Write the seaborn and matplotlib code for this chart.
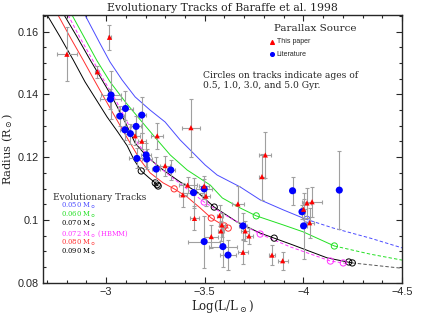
import matplotlib
matplotlib.use("Agg")
import matplotlib.pyplot as plt
import seaborn as sns
from matplotlib.ticker import MultipleLocator

# Baraffe et al. 1998 tracks: log(L/Lsun) and radius (Rsun); solid part, then dashed continuation
m050_L = [-2.893, -2.970, -3.020, -3.081, -3.147, -3.223, -3.299, -3.375, -3.426, -3.502,
          -3.563, -3.680, -3.781, -3.898, -4.010]
m050_R = [0.1653, 0.1561, 0.1503, 0.1446, 0.1392, 0.1350, 0.1312, 0.1255, 0.1223, 0.1175,
          0.1143, 0.1105, 0.1064, 0.1032, 0.1003]
m050_L_ext = [-4.010, -4.152, -4.339, -4.5]
m050_R_ext = [0.1003, 0.0974, 0.0942, 0.0911]

m060_L = [-2.827, -2.888, -2.954, -3.020, -3.101, -3.173, -3.259, -3.325, -3.411, -3.528,
          -3.589, -3.680, -3.761, -3.898, -3.999, -4.157]
m060_R = [0.1653, 0.1583, 0.1507, 0.1440, 0.1373, 0.1319, 0.1255, 0.1207, 0.1159, 0.1111,
          0.1070, 0.1038, 0.1013, 0.0984, 0.0962, 0.0917]
m060_L_ext = [-4.157, -4.339, -4.5]
m060_R_ext = [0.0917, 0.0891, 0.0872]

m070_L = [-2.787, -2.853, -2.919, -2.970, -3.030, -3.091, -3.147, -3.208, -3.289, -3.375,
          -3.462, -3.548, -3.665, -3.781, -3.852, -3.948, -4.121, -4.248]
m070_R = [0.1653, 0.1583, 0.1510, 0.1456, 0.1392, 0.1319, 0.1245, 0.1201, 0.1159, 0.1121,
          0.1089, 0.1041, 0.0993, 0.0958, 0.0942, 0.0920, 0.0879, 0.0863]
m070_L_ext = [-4.248, -4.5]
m070_R_ext = [0.0863, 0.0846]

m072_L = [-2.807, -2.868, -2.934, -2.985, -3.046, -3.107, -3.162, -3.223, -3.304, -3.391,
          -3.497, -3.629, -3.781, -3.934, -4.137, -4.202, -4.228]
m072_R = [0.1653, 0.1580, 0.1507, 0.1449, 0.1385, 0.1312, 0.1242, 0.1194, 0.1150, 0.1108,
          0.1057, 0.1006, 0.0955, 0.0914, 0.0869, 0.0863, 0.0860]

m080_L = [-2.756, -2.817, -2.883, -2.934, -2.985, -3.046, -3.107, -3.173, -3.223, -3.289,
          -3.345, -3.411, -3.477, -3.533, -3.599, -3.619]
m080_R = [0.1653, 0.1583, 0.1510, 0.1452, 0.1395, 0.1328, 0.1261, 0.1191, 0.1150, 0.1118,
          0.1099, 0.1073, 0.1038, 0.1006, 0.0981, 0.0974]

m090_L = [-2.701, -2.767, -2.833, -2.893, -2.944, -3.005, -3.056, -3.107, -3.142, -3.178,
          -3.218, -3.249, -3.264]
m090_R = [0.1653, 0.1583, 0.1510, 0.1440, 0.1389, 0.1328, 0.1283, 0.1236, 0.1191, 0.1156,
          0.1134, 0.1118, 0.1108]

# ages 0.5, 1.0, 3.0, 5.0 Gyr (only those inside the plot)
age050_L, age050_R = [-4.018], [0.1002]
age060_L, age060_R = [-3.761, -4.157], [0.1013, 0.0917]
age070_L, age070_R = [-3.548, -3.852, -4.230, -4.248], [0.1041, 0.0942, 0.0866, 0.0863]
age072_L, age072_R = [-3.497, -3.781, -4.137, -4.202], [0.1057, 0.0955, 0.0869, 0.0863]
age080_L, age080_R = [-3.345, -3.533, -3.599, -3.619], [0.1099, 0.1006, 0.0981, 0.0974]
age090_L, age090_R = [-3.178, -3.249, -3.259, -3.264], [0.1156, 0.1118, 0.1112, 0.1108]

# parallaxes from this paper
paper_L = [-2.801, -3.017, -2.956, -3.430, -3.259, -3.147, -3.181, -3.299, -3.413, -3.506,
           -3.389, -3.448, -3.587, -3.582, -3.533, -3.694, -3.705, -3.724, -3.668, -3.807,
           -3.790, -3.841, -3.895, -4.018, -4.044, -4.032, -4.001, -3.575, -3.497]
paper_R = [0.1528, 0.1582, 0.1472, 0.1294, 0.1268, 0.1268, 0.1251, 0.1173, 0.1111, 0.1076,
           0.1080, 0.1005, 0.0984, 0.0965, 0.0947, 0.0897, 0.0965, 0.0949, 0.1051, 0.1207,
           0.1138, 0.0888, 0.0870, 0.1054, 0.1058, 0.0991, 0.1034, 0.1014, 0.1108]
paper_Lerr = [0.051, 0.010, 0.010, 0.046, 0.030, 0.025, 0.020, 0.025, 0.046, 0.020,
              0.020, 0.025, 0.015, 0.015, 0.036, 0.025, 0.020, 0.020, 0.030, 0.030,
              0.015, 0.015, 0.025, 0.020, 0.051, 0.020, 0.015, 0.015, 0.025]
paper_Rerr = [0.0086, 0.0040, 0.0019, 0.0092, 0.0041, 0.0029, 0.0025, 0.0032, 0.0025, 0.0032,
              0.0038, 0.0038, 0.0038, 0.0032, 0.0038, 0.0038, 0.0032, 0.0025, 0.0057, 0.0073,
              0.0073, 0.0032, 0.0029, 0.0048, 0.0048, 0.0048, 0.0032, 0.0032, 0.0032]

# parallaxes from the literature
lit_L = [-3.025, -3.022, -3.098, -3.070, -3.181, -3.152, -3.095, -3.123, -3.156, -3.203,
         -3.206, -3.254, -3.328, -3.443, -3.497, -3.497, -3.592, -3.618, -3.694, -3.945,
         -3.993, -4.001, -4.182]
lit_R = [0.1398, 0.1385, 0.1355, 0.1331, 0.1334, 0.1298, 0.1287, 0.1275, 0.1196, 0.1207,
         0.1194, 0.1162, 0.1159, 0.1087, 0.1099, 0.0931, 0.0915, 0.0888, 0.0981, 0.1093,
         0.1026, 0.0981, 0.1095]
lit_Lerr = [0.051, 0.051, 0.036, 0.020, 0.020, 0.025, 0.025, 0.025, 0.041, 0.025,
            0.025, 0.020, 0.020, 0.051, 0.041, 0.081, 0.071, 0.041, 0.020, 0.010,
            0.015, 0.015, 0.010]
lit_Rerr = [0.0076, 0.0032, 0.0057, 0.0032, 0.0057, 0.0032, 0.0032, 0.0032, 0.0032, 0.0038,
            0.0032, 0.0038, 0.0032, 0.0048, 0.0032, 0.0083, 0.0064, 0.0048, 0.0041, 0.0045,
            0.0022, 0.0105, 0.0124]

x_ticks = [-3, -3.5, -4, -4.5]
x_tick_labels = ['\u22123', '\u22123.5', '\u22124', '\u22124.5']
y_ticks = [0.08, 0.1, 0.12, 0.14, 0.16]
y_tick_labels = ['0.08', '0.1', '0.12', '0.14', '0.16']

c_blue = '#4b4bff'
c_green = '#22e022'
c_mag = '#ff33ff'
c_red = '#ff3030'

sns.set_style("ticks")
plt.rcParams['font.family'] = ['DejaVu Serif']
plt.rcParams['mathtext.fontset'] = 'dejavuserif'

fig = plt.figure(figsize=(4.27, 3.19), dpi=100)
ax = fig.add_axes([0.1007, 0.1138, 0.8408, 0.8392])

dash = (0, (3.5, 2.2))
tracks = [
    (m050_L, m050_R, c_blue, '-'), (m050_L_ext, m050_R_ext, c_blue, dash),
    (m060_L, m060_R, c_green, '-'), (m060_L_ext, m060_R_ext, c_green, dash),
    (m070_L, m070_R, 'black', '-'), (m070_L_ext, m070_R_ext, '#555555', dash),
    (m072_L, m072_R, c_mag, dash),
    (m080_L, m080_R, c_red, '-'),
    (m090_L, m090_R, 'black', '-'),
]
for L, R, col, ls in tracks:
    sns.lineplot(x=L, y=R, sort=False, estimator=None, color=col, lw=0.7, ls=ls, ax=ax, zorder=2)

ages = [(age050_L, age050_R, c_blue), (age060_L, age060_R, c_green), (age070_L, age070_R, 'black'),
        (age072_L, age072_R, c_mag), (age080_L, age080_R, c_red), (age090_L, age090_R, 'black')]
for L, R, col in ages:
    ax.scatter(L, R, s=20, facecolors='none', edgecolors=col, linewidths=0.7, zorder=2.5)

ax.errorbar(paper_L, paper_R, xerr=paper_Lerr, yerr=paper_Rerr, fmt='none', ecolor='#a0a0a0',
            elinewidth=0.8, capsize=1.6, capthick=0.8, zorder=3)
ax.errorbar(lit_L, lit_R, xerr=lit_Lerr, yerr=lit_Rerr, fmt='none', ecolor='#a0a0a0',
            elinewidth=0.8, capsize=1.6, capthick=0.8, zorder=3)
sns.scatterplot(x=lit_L, y=lit_R, color='#0000ff', marker='o', s=26, edgecolor='none', ax=ax, zorder=4)
sns.scatterplot(x=paper_L, y=paper_R, color='#ff0000', marker='^', s=14, edgecolor='none', ax=ax, zorder=4)

ax.set_xlim(-2.68, -4.5)
ax.set_ylim(0.08, 0.1653)
ax.set_xticks(x_ticks, x_tick_labels, fontfamily='Liberation Sans', fontsize=7.8)
ax.set_yticks(y_ticks, y_tick_labels, fontfamily='Liberation Sans', fontsize=7.8)
ax.xaxis.set_minor_locator(MultipleLocator(0.1))
ax.yaxis.set_minor_locator(MultipleLocator(0.005))
ax.tick_params(which='both', direction='in', top=True, right=True, width=0.8, pad=3)
ax.tick_params(which='major', length=4.5)
ax.tick_params(which='minor', length=2.2)
for s in ax.spines.values():
    s.set_linewidth(1.0)

ax.set_title('Evolutionary Tracks of Baraffe et al. 1998', fontsize=7.8, pad=3)
ax.set_xlabel(r'Log(L/L$_\odot$)', fontsize=8.5, labelpad=1)
ax.set_ylabel(r'Radius (R$_\odot$)', fontsize=8.2, labelpad=2)

tr = ax.transAxes
ax.text(0.759, 0.951, 'Parallax Source', transform=tr, fontsize=7.5, ha='center', va='center')
ax.scatter([0.639], [0.900], transform=tr, marker='^', s=7, color='#ff0000', clip_on=False)
ax.text(0.651, 0.900, 'This paper', transform=tr, fontsize=5, fontfamily='Liberation Sans', va='center')
ax.scatter([0.639], [0.854], transform=tr, marker='o', s=7, color='#0000ff', clip_on=False)
ax.text(0.651, 0.854, 'Literature', transform=tr, fontsize=5, fontfamily='Liberation Sans', va='center')
ax.text(0.445, 0.775, 'Circles on tracks indicate ages of', transform=tr, fontsize=6.6, va='center')
ax.text(0.445, 0.738, '0.5, 1.0, 3.0, and 5.0 Gyr.', transform=tr, fontsize=6.6, va='center')

ax.text(0.029, 0.318, 'Evolutionary Tracks', transform=tr, fontsize=6.6, va='center', color='#333333')
entries = [('0.050 M$_\\odot$', c_blue), ('0.060 M$_\\odot$', c_green), ('0.070 M$_\\odot$', 'black'),
           ('0.072 M$_\\odot$ (HBMM)', c_mag), ('0.080 M$_\\odot$', c_red), ('0.090 M$_\\odot$', 'black')]
for k, (lab, col) in enumerate(entries):
    ax.text(0.049, 0.286 - k * 0.034, lab, transform=tr, fontsize=4.9, va='center', color=col)

fig.savefig('out.png', dpi=100)
